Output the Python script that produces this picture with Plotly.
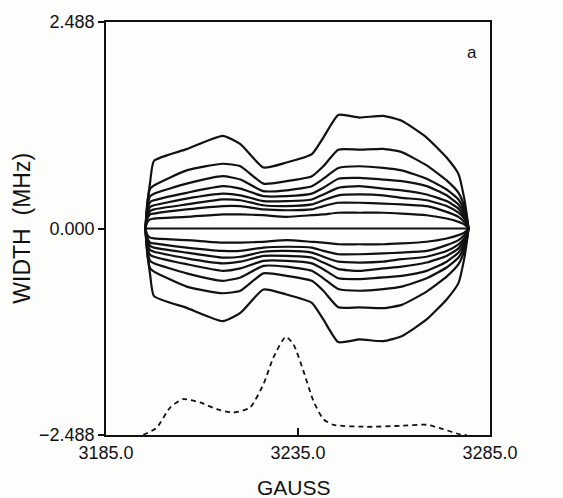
import plotly.graph_objects as go

# ---- data ----
field_gauss = [3195.3, 3195.8, 3196.5, 3197.5, 3206.0, 3215.4, 3220.0, 3226.0, 3232.0,
               3238.6, 3241.6, 3245.5, 3251.0, 3257.2, 3262.0, 3268.5, 3273.7, 3276.8,
               3278.3, 3279.0, 3279.4]

# half widths (MHz) of the nested contours, outermost first
half_width_1 = [0, 0.30, 0.56, 0.815, 0.956, 1.116, 1.016, 0.735, 0.795, 0.896, 1.096, 1.369,
                1.337, 1.357, 1.297, 1.096, 0.855, 0.655, 0.36, 0.15, 0]
half_width_2 = [0, 0.33, 0.48, 0.52, 0.70, 0.78, 0.75, 0.54, 0.57, 0.63, 0.75, 0.95,
                0.95, 0.96, 0.92, 0.76, 0.58, 0.43, 0.27, 0.13, 0]
half_width_3 = [0, 0.27, 0.39, 0.42, 0.54, 0.63, 0.59, 0.45, 0.46, 0.51, 0.60, 0.73,
                0.75, 0.73, 0.70, 0.60, 0.47, 0.35, 0.22, 0.10, 0]
half_width_4 = [0, 0.22, 0.32, 0.34, 0.43, 0.51, 0.48, 0.39, 0.39, 0.42, 0.49, 0.60,
                0.61, 0.59, 0.57, 0.51, 0.40, 0.29, 0.18, 0.08, 0]
half_width_5 = [0, 0.18, 0.26, 0.28, 0.36, 0.42, 0.40, 0.33, 0.33, 0.35, 0.41, 0.49,
                0.51, 0.48, 0.46, 0.41, 0.33, 0.24, 0.14, 0.06, 0]
half_width_6 = [0, 0.15, 0.21, 0.23, 0.29, 0.35, 0.34, 0.28, 0.27, 0.29, 0.34, 0.40,
                0.41, 0.40, 0.37, 0.34, 0.27, 0.19, 0.12, 0.05, 0]
half_width_7 = [0, 0.12, 0.17, 0.18, 0.23, 0.27, 0.27, 0.23, 0.22, 0.23, 0.27, 0.31,
                0.31, 0.30, 0.29, 0.27, 0.20, 0.14, 0.08, 0.04, 0]
half_width_8 = [0, 0.08, 0.11, 0.12, 0.14, 0.17, 0.17, 0.16, 0.14, 0.16, 0.17, 0.19,
                0.19, 0.19, 0.18, 0.16, 0.12, 0.08, 0.05, 0.02, 0]

center_gauss = [3195.3, 3279.4]
center_mhz = [0.0, 0.0]

spectrum_gauss = [3194.7, 3198.2, 3201.7, 3205.1, 3209.5, 3213.8, 3218.2, 3222.5, 3226.0,
                  3228.6, 3231.8, 3233.8, 3236.4, 3239.0, 3241.6, 3244.2, 3252.9, 3261.6,
                  3268.5, 3272.8, 3277.2, 3278.9]
spectrum_mhz = [-2.486, -2.40, -2.157, -2.056, -2.096, -2.177, -2.217, -2.157, -1.876,
                -1.554, -1.305, -1.394, -1.715, -2.076, -2.297, -2.365, -2.389, -2.377,
                -2.365, -2.418, -2.480, -2.488]

x_tick_values = [3185.0, 3235.0, 3285.0]
x_tick_labels = ["3185.0", "3235.0", "3285.0"]
y_tick_values = [-2.488, 0.0, 2.488]
y_tick_labels = ["\u22122.488", "0.000", "2.488"]

levels = [half_width_1, half_width_2, half_width_3, half_width_4,
          half_width_5, half_width_6, half_width_7, half_width_8]

FONT = "Liberation Sans, Arial, sans-serif"
INK = "#111111"

fig = go.Figure()
for hw in levels:
    xs = field_gauss + field_gauss[::-1]
    ys = list(hw) + [-v for v in hw[::-1]]
    fig.add_trace(go.Scatter(x=xs, y=ys, mode="lines",
                             line=dict(color=INK, width=2.2, shape="spline", smoothing=0.5),
                             hoverinfo="skip", showlegend=False))

fig.add_trace(go.Scatter(x=center_gauss, y=center_mhz, mode="lines",
                         line=dict(color=INK, width=2.2), hoverinfo="skip", showlegend=False))

fig.add_trace(go.Scatter(x=spectrum_gauss, y=spectrum_mhz, mode="lines",
                         line=dict(color=INK, width=1.8, dash="5px,4px", shape="spline", smoothing=0.6),
                         hoverinfo="skip", showlegend=False))

fig.update_layout(
    width=563, height=498,
    margin=dict(l=106, r=73, t=22, b=63),
    paper_bgcolor="#fdfdfc", plot_bgcolor="#fdfdfc",
    font=dict(family=FONT, size=16, color=INK),
    showlegend=False,
    xaxis=dict(range=[3185, 3285], tickvals=x_tick_values, ticktext=x_tick_labels,
               ticks="inside", ticklen=7, tickwidth=1.6, tickcolor=INK,
               showline=True, linecolor=INK, linewidth=1.9, mirror=True,
               showgrid=False, zeroline=False, tickfont=dict(size=18)),
    yaxis=dict(range=[-2.488, 2.488], tickvals=y_tick_values, ticktext=y_tick_labels,
               ticks="outside", ticklen=6, tickwidth=1.6, tickcolor=INK,
               showline=True, linecolor=INK, linewidth=1.9, mirror=True,
               showgrid=False, zeroline=False, tickfont=dict(size=18)),
    annotations=[
        dict(text="a", x=3280.3, y=2.12, xref="x", yref="y", showarrow=False,
             font=dict(size=17, color=INK)),
        dict(text="GAUSS", x=0.49, y=-0.128, xref="paper", yref="paper", showarrow=False,
             xanchor="center", yanchor="middle", font=dict(size=21, color=INK)),
        dict(text="WIDTH  (MHz)", x=-0.221, y=0.5, xref="paper", yref="paper", showarrow=False,
             xanchor="center", yanchor="middle", textangle=-90, font=dict(size=23, color=INK)),
    ],
)

fig.write_html("out.html")
